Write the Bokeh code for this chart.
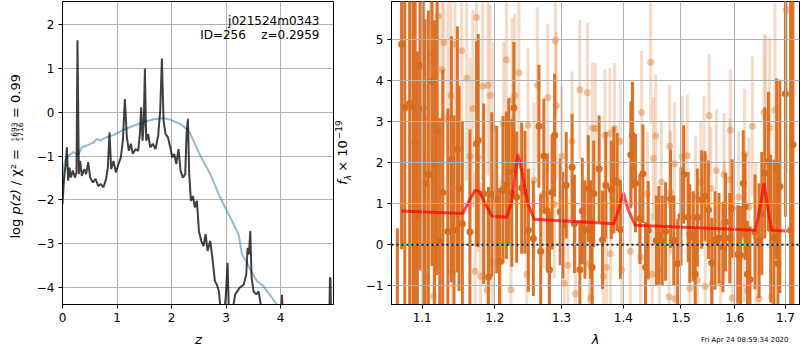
from bokeh.plotting import figure
from bokeh.layouts import row, column
from bokeh.models import FixedTicker, Span, PrintfTickFormatter, ColumnDataSource, Range1d
from bokeh.core.properties import value
from bokeh.embed import file_html
from bokeh.resources import INLINE

# ---------------- left panel: log p(z) and chi2 ----------------
Z_PZ = [0.000, 0.018, 0.037, 0.061, 0.080, 0.104, 0.128, 0.153, 0.190, 0.226,
        0.257, 0.275, 0.300, 0.324, 0.355, 0.398, 0.434, 0.471, 0.508, 0.557,
        0.606, 0.654, 0.703, 0.752, 0.800, 0.832, 0.862, 0.893, 0.936, 0.979,
        1.028, 1.070, 1.107, 1.144, 1.180, 1.217, 1.254, 1.290, 1.340, 1.388,
        1.419, 1.443, 1.468, 1.490, 1.511, 1.535, 1.572, 1.609, 1.657, 1.706,
        1.755, 1.792, 1.823, 1.853, 1.890, 1.933, 1.976, 2.012, 2.049, 2.086,
        2.128, 2.165, 2.208, 2.251, 2.275, 2.300, 2.324, 2.355, 2.391, 2.428,
        2.465, 2.502, 2.544, 2.587, 2.624, 2.661, 2.709, 2.752, 2.795, 2.832,
        2.869, 2.905, 2.966, 2.997, 3.028, 3.052, 3.107, 3.168, 3.248, 3.321,
        3.370, 3.395, 3.419, 3.444, 3.468, 3.505, 3.554, 3.596, 3.627, 3.657,
        3.800, 4.000, 4.025, 4.050, 4.300, 4.600, 4.890, 4.905, 4.915, 4.930]
LOG_PZ = [-2.10, -1.71, -1.41, -1.18, -0.80, -1.56, -1.26, -1.49, -1.33, -1.49,
          -1.37, 1.64, -1.41, -1.11, -1.45, -1.30, -1.41, -1.14, -1.49, -1.60,
          -1.52, -1.68, -1.64, -1.71, -1.52, -1.26, -0.46, -1.30, -1.11, -1.37,
          -1.18, -1.03, -0.65, 0.30, -0.57, -0.88, -0.72, -0.95, -0.84, -0.88,
          -0.50, 0.11, -0.65, -0.27, 0.99, -0.65, -0.50, -0.80, -0.72, -0.84,
          -0.53, 0.04, 1.22, -0.19, -0.50, -0.57, -0.80, -1.03, -0.95, -1.18,
          -0.84, -1.33, -1.49, -1.41, -0.50, -0.15, -1.41, -2.02, -1.91, -2.17,
          -2.02, -2.71, -2.93, -3.05, -2.78, -3.16, -2.93, -3.35, -3.85, -3.93,
          -4.08, -4.60, -4.60, -4.15, -3.43, -4.60, -4.60, -4.15, -4.00, -3.93,
          -3.70, -3.09, -3.24, -2.71, -3.77, -4.08, -4.15, -4.08, -4.31, -4.60,
          -5.50, -4.90, -4.16, -4.90, -5.80, -6.00, -5.00, -3.76, -3.80, -5.00]

Z_CHI = [0.000, 0.018, 0.050, 0.110, 0.200, 0.290, 0.355, 0.446, 0.569, 0.630,
         0.690, 0.810, 0.936, 1.120, 1.300, 1.486, 1.670, 1.853, 1.976, 2.160,
         2.280, 2.343, 2.527, 2.710, 2.894, 3.077, 3.229, 3.292, 3.383, 3.475,
         3.567, 3.659, 3.780, 3.934, 4.100, 4.500]
CHI_CURVE = [-1.64, -1.26, -1.10, -0.99, -0.91, -0.97, -0.80, -0.76, -0.69, -0.61,
             -0.65, -0.57, -0.52, -0.40, -0.31, -0.23, -0.16, -0.14, -0.17, -0.27,
             -0.38, -0.49, -0.99, -1.41, -1.95, -2.40, -2.78, -3.24, -3.43, -3.66,
             -3.85, -3.93, -4.12, -4.38, -4.70, -5.40]

Z_TICKS = [0, 1, 2, 3, 4]
PZ_TICKS = [-4, -3, -2, -1, 0, 1, 2]

# ---------------- right panel: spectrum ----------------
DARK_WAVE = [1.0678, 1.0732, 1.0773, 1.0836, 1.0879, 1.0908, 1.0937, 1.0971, 1.1013, 1.1037,
             1.1082, 1.1129, 1.1165, 1.1198, 1.1234, 1.1275, 1.1344, 1.1392, 1.1428, 1.1474,
             1.1497, 1.1543, 1.1648, 1.1741, 1.1764, 1.1841, 1.1910, 1.1957, 1.2028, 1.2067,
             1.2118, 1.2168, 1.2202, 1.2247, 1.2277, 1.2318, 1.2393, 1.2442, 1.2493, 1.2568,
             1.2652, 1.2678, 1.2727, 1.2778, 1.2813, 1.2853, 1.2892, 1.2978, 1.3019, 1.3073,
             1.3165, 1.3202, 1.3288, 1.3327, 1.3369, 1.3424, 1.3461, 1.3485, 1.3510, 1.3599,
             1.3654, 1.3707, 1.3799, 1.3841, 1.3896, 1.3950, 1.4125, 1.4152, 1.4204, 1.4279,
             1.4331, 1.4376, 1.4423, 1.4563, 1.4608, 1.4667, 1.4725, 1.4814, 1.4871, 1.4941,
             1.5000, 1.5048, 1.5130, 1.5160, 1.5223, 1.5257, 1.5297, 1.5377, 1.5439, 1.5502,
             1.5563, 1.5625, 1.5699, 1.5773, 1.5823, 1.5903, 1.5948, 1.6055, 1.6109, 1.6162,
             1.6198, 1.6242, 1.6293, 1.6392, 1.6471, 1.6525, 1.6584, 1.6657, 1.6703, 1.6768,
             1.6822, 1.6848, 1.6887, 1.7000, 1.7105, 1.7153]
DARK_FLUX = [-2.00, 4.89, 3.34, 3.44, 3.37, 2.49, 0.71, 4.37, 3.32, 1.50,
             1.71, 3.98, 1.97, 2.76, 0.08, 1.27, 0.32, 2.08, 0.35, 2.32,
             1.37, 0.51, 0.31, 2.46, 2.54, 1.24, -0.79, 1.23, 1.10, -0.42,
             1.34, 1.45, 1.77, 1.26, 3.34, 1.16, 1.38, 1.28, 0.35, 0.15,
             2.89, -0.16, 2.16, 0.82, -0.61, 1.28, 2.67, 0.80, 0.47, 1.45,
             1.89, 0.51, -0.61, 0.82, 0.37, 1.37, 0.37, -0.55, 1.24, 1.85,
             0.12, 1.45, 1.34, 1.57, 1.53, 0.37, 2.19, 2.67, 1.50, 0.63,
             1.73, -0.55, 0.35, 0.10, 0.23, 0.10, 0.32, 1.12, 0.10, -0.46,
             0.69, 1.71, 0.67, 0.27, 0.20, -0.72, 0.66, 1.10, 1.18, 0.85,
             -0.45, 0.10, 0.16, -0.06, 0.55, 0.16, 0.88, -0.24, -0.26, 1.49,
             0.93, -0.72, -0.85, 0.31, 0.10, 0.76, 1.75, 2.03, 0.39, 0.17,
             1.85, -0.46, 1.42, 3.68, 0.35, 2.44]
DARK_ERR = [2.40, 5.00, 5.00, 5.00, 5.00, 4.50, 4.00, 5.00, 5.00, 4.00,
            4.00, 4.50, 3.50, 3.50, 3.00, 3.00, 3.00, 3.00, 2.80, 3.00,
            2.50, 2.50, 2.50, 2.50, 2.60, 2.20, 2.20, 2.00, 1.80, 1.80,
            1.80, 1.80, 1.80, 1.80, 1.60, 1.60, 1.60, 1.50, 1.50, 1.40,
            1.50, 1.40, 1.40, 1.40, 1.40, 1.40, 1.50, 1.30, 1.30, 1.30,
            1.30, 1.20, 1.20, 1.30, 1.20, 1.30, 1.20, 1.20, 1.30, 1.30,
            1.20, 1.30, 1.20, 1.30, 1.20, 1.20, 1.30, 1.30, 1.20, 1.10,
            1.20, 1.10, 1.20, 1.10, 1.20, 1.10, 1.20, 1.20, 1.10, 1.10,
            1.20, 1.20, 1.10, 1.20, 1.10, 1.10, 1.20, 1.20, 1.10, 1.20,
            1.10, 1.20, 1.10, 1.10, 1.20, 1.10, 1.20, 1.20, 1.20, 1.30,
            1.30, 1.30, 1.30, 1.40, 1.40, 1.50, 1.60, 1.70, 1.80, 1.90,
            2.20, 2.50, 2.60, 3.00, 8.00, 8.00]

LIGHT_WAVE = [1.1027, 1.1060, 1.1113, 1.1143, 1.1151, 1.1212, 1.1265, 1.1289, 1.1344, 1.1386,
              1.1405, 1.1441, 1.1533, 1.1602, 1.1648, 1.1689, 1.1720, 1.1740, 1.1764, 1.1796,
              1.1827, 1.1888, 1.1902, 1.1934, 1.1968, 1.1982, 1.2088, 1.2127, 1.2168, 1.2235,
              1.2253, 1.2292, 1.2352, 1.2468, 1.2487, 1.2577, 1.2628, 1.2718, 1.2787, 1.2802,
              1.2888, 1.2903, 1.2918, 1.3003, 1.3040, 1.3100, 1.3165, 1.3218, 1.3288, 1.3408,
              1.3437, 1.3461, 1.3489, 1.3540, 1.3667, 1.3693, 1.3720, 1.3774, 1.3785, 1.3850,
              1.3947, 1.3971, 1.4117, 1.4164, 1.4291, 1.4308, 1.4408, 1.4465, 1.4491, 1.4512,
              1.4552, 1.4620, 1.4652, 1.4788, 1.4796, 1.4814, 1.4883, 1.4892, 1.5019, 1.5112,
              1.5160, 1.5266, 1.5297, 1.5359, 1.5420, 1.5442, 1.5513, 1.5545, 1.5576, 1.5650,
              1.5730, 1.5792, 1.5805, 1.5903, 1.5916, 1.5948, 1.6075, 1.6174, 1.6188, 1.6248,
              1.6273, 1.6341, 1.6406, 1.6471, 1.6570, 1.6604, 1.6683, 1.6723, 1.6788, 1.7021]
LIGHT_FLUX = [3.11, -0.79, 4.66, 4.45, -1.26, 5.57, 4.27, 4.93, 3.10, 3.64,
              -0.67, 4.89, 4.73, 4.06, 2.15, 3.32, -0.65, 5.54, 2.12, -0.77,
              3.86, -1.10, 3.89, 3.64, -0.42, 2.83, -0.42, 2.95, 4.51, -1.10,
              3.52, 3.64, 4.19, -0.72, 2.91, 1.57, 3.89, 1.23, 3.59, -0.61,
              0.98, 4.97, 3.39, 2.16, -0.94, -0.50, 2.52, -1.20, 3.78, 3.71,
              -0.46, -1.30, 2.84, 2.83, -0.77, 2.67, -0.55, 2.71, -0.22, 2.83,
              2.52, -0.61, -0.16, 2.45, -0.30, 3.22, 1.24, 4.45, -0.72, 2.10,
              2.65, -0.61, 1.53, -1.28, 2.40, 1.28, 1.97, -1.32, 2.14, 2.17,
              -1.07, 1.16, -0.87, 1.53, 2.14, -1.02, 3.15, 1.37, -0.95, 1.81,
              -0.94, 1.71, 0.55, 1.58, 2.79, -1.30, 1.16, 0.20, 2.20, -1.11,
              0.92, 2.89, 0.20, -1.32, 3.23, 3.10, 2.85, -1.28, 3.28, 5.73]
LIGHT_ERR = [3.00, 3.00, 3.00, 3.00, 3.00, 3.00, 2.80, 2.80, 2.80, 2.60,
             2.60, 2.60, 2.50, 2.50, 2.40, 2.40, 2.40, 2.40, 2.30, 2.30,
             2.30, 2.20, 2.20, 2.20, 2.20, 2.10, 2.00, 2.00, 2.00, 2.00,
             2.00, 2.00, 2.00, 1.90, 1.90, 1.90, 1.90, 1.80, 1.80, 1.80,
             1.80, 1.80, 1.80, 1.70, 1.70, 1.70, 1.70, 1.70, 1.70, 1.70,
             1.60, 1.60, 1.60, 1.60, 1.60, 1.60, 1.60, 1.60, 1.60, 1.60,
             1.50, 1.50, 1.50, 1.50, 1.50, 1.50, 1.50, 1.50, 1.50, 1.50,
             1.50, 1.50, 1.50, 1.50, 1.50, 1.50, 1.50, 1.50, 1.50, 1.50,
             1.50, 1.50, 1.50, 1.50, 1.50, 1.50, 1.50, 1.50, 1.50, 1.50,
             1.50, 1.50, 1.50, 1.50, 1.50, 1.60, 1.60, 1.60, 1.60, 1.60,
             1.70, 1.70, 1.80, 1.80, 1.90, 2.00, 2.20, 2.40, 2.60, 4.00]

MODEL_WAVE = [1.073, 1.155, 1.163, 1.172, 1.178, 1.186, 1.196, 1.217, 1.224, 1.2337,
              1.240, 1.2485, 1.258, 1.384, 1.392, 1.400, 1.408, 1.420, 1.640, 1.649,
              1.657, 1.665, 1.672, 1.703]
MODEL_FLUX = [0.82, 0.76, 1.05, 1.32, 1.30, 1.00, 0.69, 0.67, 1.00, 2.20,
              1.75, 1.00, 0.62, 0.51, 0.85, 1.26, 0.85, 0.47, 0.35, 0.90,
              1.49, 0.85, 0.35, 0.33]

WAVE_TICKS = [1.1, 1.2, 1.3, 1.4, 1.5, 1.6, 1.7]
FLUX_TICKS = [-1, 0, 1, 2, 3, 4, 5]

FONT = "DejaVu Sans"
DARK = "#d96d1f"
NBSP = "\u00a0"
ROT = 1.5707963267948966

TOP_H = 328      # height of the row holding the two panels
BOT_H = 22       # height of the strip holding the x-axis titles


def minus_overrides(ticks):
    return {t: ("\u2212" + str(abs(t)) if t < 0 else str(t)) for t in ticks}


def style(p):
    p.outline_line_color = "black"
    p.outline_line_alpha = 1
    p.outline_line_width = 1
    p.background_fill_color = "white"
    p.border_fill_color = "white"
    for ax in (p.xaxis[0], p.yaxis[0]):
        ax.axis_line_color = "black"
        ax.major_tick_line_color = "black"
        ax.major_tick_out = 4
        ax.major_tick_in = 0
        ax.minor_tick_out = 0
        ax.minor_tick_in = 0
        ax.major_label_text_font = FONT
        ax.major_label_text_font_size = "12px"
        ax.major_label_text_color = "black"
        ax.major_label_standoff = 4
    p.grid.grid_line_color = "#b0b0b0"
    p.grid.grid_line_width = 1


def blank(width, height, x_range, y_range, left=0, right=0, top=0, bottom=0):
    f = figure(width=width, height=height, x_range=x_range, y_range=y_range,
               output_backend="svg", toolbar_location=None,
               x_axis_location=None, y_axis_location=None,
               min_border_left=left, min_border_right=right,
               min_border_top=top, min_border_bottom=bottom)
    f.grid.visible = False
    f.outline_line_color = None
    f.background_fill_color = None
    f.border_fill_color = None
    return f


def txt(f, x, y, s, size, angle=0.0, align="left", fstyle="normal"):
    f.text(x=[x], y=[y], text=[s], angle=angle, text_align=align, text_baseline="middle",
           text_font=value(FONT), text_font_size=value(size), text_font_style=fstyle,
           text_color="black")


# ---------- left panel ----------
p1 = figure(width=306, height=TOP_H, x_range=Range1d(0, 4.97), y_range=Range1d(-4.38, 2.52),
            output_backend="svg", toolbar_location=None,
            min_border_left=34, min_border_right=1, min_border_top=1, min_border_bottom=24)
style(p1)
p1.xaxis.ticker = FixedTicker(ticks=Z_TICKS)
p1.yaxis.ticker = FixedTicker(ticks=PZ_TICKS)
p1.yaxis.major_label_overrides = minus_overrides(PZ_TICKS)

p1.line(Z_CHI, CHI_CURVE, line_color="#1f77b4", line_alpha=0.5, line_width=2)
p1.line(Z_PZ, LOG_PZ, line_color="black", line_alpha=0.75, line_width=2)

txt(p1, 4.713, 2.087, "j021524m0343", "12px", align="right")
txt(p1, 4.713, 1.746, "ID=256" + NBSP * 4 + "z=0.2959", "12px", align="right")

# left y-axis title strip (shares the y range of the left panel)
L1 = blank(28, TOP_H, Range1d(0, 28), p1.y_range, top=1, bottom=24)
txt(L1, 14.5, -2.877, "log", "13px", angle=ROT, align="left")
txt(L1, 14.5, -2.330, "p(z)", "13px", angle=ROT, align="left", fstyle="italic")
txt(L1, 14.5, -1.665, "/ \u03c7\u00b2 =", "13px", angle=ROT, align="left")
txt(L1, 13.0, -0.452, "1693", "7.5px", angle=ROT, align="center")
txt(L1, 19.6, -0.452, "1716", "7.5px", angle=ROT, align="center")
txt(L1, 14.5, -0.133, "= 0.99", "13px", angle=ROT, align="left")

# ---------- right panel ----------
p2 = figure(width=444, height=TOP_H, x_axis_type="log",
            x_range=Range1d(1.0603, 1.7289), y_range=Range1d(-1.46, 5.93),
            output_backend="svg", toolbar_location=None,
            min_border_left=35, min_border_right=1, min_border_top=1, min_border_bottom=24)
style(p2)
p2.xaxis.ticker = FixedTicker(ticks=WAVE_TICKS)
p2.xaxis.formatter = PrintfTickFormatter(format="%.1f")
p2.yaxis.ticker = FixedTicker(ticks=FLUX_TICKS)
p2.yaxis.major_label_overrides = minus_overrides(FLUX_TICKS)
p2.grid.level = "guide"

light = ColumnDataSource(dict(
    x=LIGHT_WAVE, y=LIGHT_FLUX,
    lo=[f - e for f, e in zip(LIGHT_FLUX, LIGHT_ERR)],
    hi=[f + e for f, e in zip(LIGHT_FLUX, LIGHT_ERR)]))
dark = ColumnDataSource(dict(
    x=DARK_WAVE, y=DARK_FLUX,
    lo=[f - e for f, e in zip(DARK_FLUX, DARK_ERR)],
    hi=[f + e for f, e in zip(DARK_FLUX, DARK_ERR)]))

p2.segment(x0="x", y0="lo", x1="x", y1="hi", source=light, line_color=DARK,
           line_alpha=0.25, line_width=3, line_cap="butt")
p2.scatter(x="x", y="y", source=light, size=7, fill_color=DARK, fill_alpha=0.4,
           line_color=None)
p2.segment(x0="x", y0="lo", x1="x", y1="hi", source=dark, line_color=DARK,
           line_alpha=0.95, line_width=3, line_cap="butt")
p2.scatter(x="x", y="y", source=dark, size=7, fill_color=DARK, fill_alpha=1.0,
           line_color=None)
p2.line(MODEL_WAVE, MODEL_FLUX, line_color="red", line_alpha=0.7, line_width=3)
p2.add_layout(Span(location=0, dimension="width", line_color="black", line_alpha=0.85,
                   line_width=2, line_dash="2 3"))

# right y-axis title strip (shares the y range of the right panel)
L2 = blank(22, TOP_H, Range1d(0, 22), p2.y_range, top=1, bottom=24)
txt(L2, 7.5, 1.46, "f", "13px", angle=ROT, align="left", fstyle="italic")
txt(L2, 13.8, 1.573, "\u03bb", "9px", angle=ROT, align="left", fstyle="italic")
txt(L2, 7.5, 1.776, "\u00d7 10", "13px", angle=ROT, align="left")
txt(L2, 4.3, 2.571, "\u221219", "9px", angle=ROT, align="left")

# ---------- x-axis titles and timestamp strip ----------
B1 = blank(334, BOT_H, Range1d(0, 271), Range1d(0, BOT_H), left=62, right=1)
txt(B1, 136, 11, "z", "13px", align="center", fstyle="italic")
B2 = blank(466, BOT_H, Range1d(0, 408), Range1d(0, BOT_H), left=57, right=1)
txt(B2, 204, 11, "\u03bb", "13px", align="center", fstyle="italic")
txt(B2, 397, 11, "Fri Apr 24 08:59:34 2020", "7px", align="right")

layout = column(row(L1, p1, L2, p2), row(B1, B2))
open("out.html", "w").write(file_html(layout, INLINE))
